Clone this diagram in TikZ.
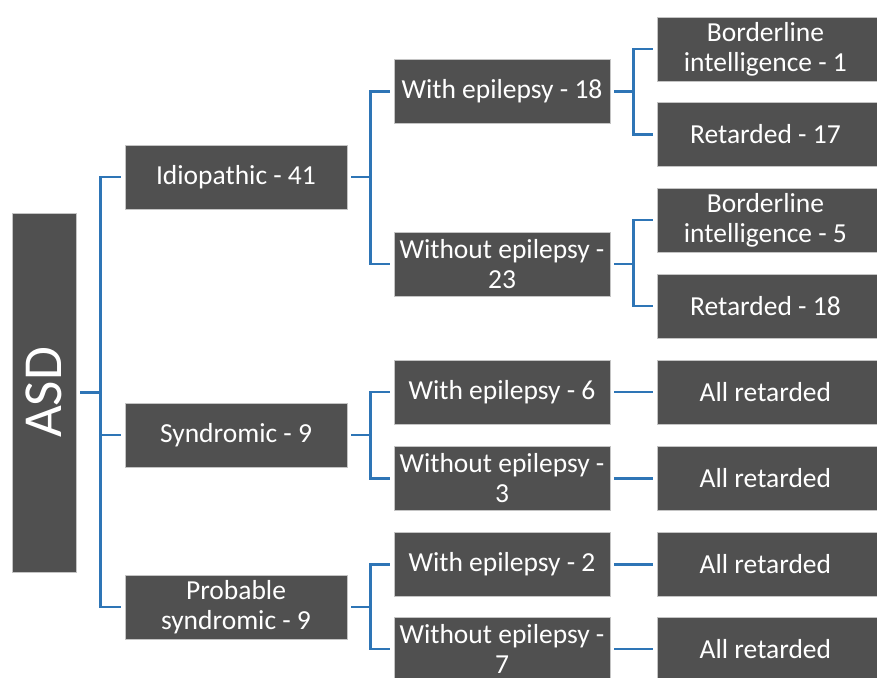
\documentclass[tikz,border=0pt]{standalone}
\usepackage{fontspec}
\setmainfont{Carlito}
\usepackage{graphicx}
\usepackage{tikz}
\usetikzlibrary{positioning}
\definecolor{mbox}{HTML}{505050}
\definecolor{medge}{HTML}{C4C4C4}
\definecolor{mblue}{HTML}{2E75B6}
\tikzset{box/.style = {fill = mbox, draw = medge, line width = 0.8, text = white,
                       inner sep = 0, minimum height = 64,
                       font = \fontsize{27.5}{30}\selectfont}}
\tikzset{lvlone/.style = {box, minimum width = 222, align = center}}
\tikzset{lvltwo/.style = {box, minimum width = 216, align = center}}
\tikzset{lvlthree/.style = {box, anchor = west, minimum width = 240,
                            execute at begin node = {\begin{minipage}{216pt}\centering},
                            execute at end node = {\end{minipage}\hspace*{24pt}}}}
\tikzset{conn/.style = {mblue, line width = 2.5, shorten < = 4, shorten > = 4}}

\begin{document}
\begin{tikzpicture}[x = 1pt, y = -1pt]
      \useasboundingbox (0, 0) rectangle (877, 677);
      \node [box, minimum width = 64, minimum height = 359,
             font = \fontsize{55}{60}\selectfont] (asd) at (44, 392.5) {\rotatebox{90}{ASD}};
      % first level
      \node [lvlone] (idio) at (236, 177) {Idiopathic - 41};
      \node [lvlone] (synd) at (236, 435) {Syndromic - 9};
      \node [lvlone] (prob) at (236, 607) {Probable\\ syndromic - 9};
      % second level
      \node [lvltwo] (we18) at (502, 91.5) {With epilepsy - 18};
      \node [lvltwo] (wo23) at (502, 264) {Without epilepsy -\\ 23};
      \node [lvltwo] (we6) at (502, 392) {With epilepsy - 6};
      \node [lvltwo] (wo3) at (502, 478.5) {Without epilepsy -\\ 3};
      \node [lvltwo] (we2) at (502, 564.5) {With epilepsy - 2};
      \node [lvltwo] (wo7) at (502, 649) {Without epilepsy -\\ 7};
      % third level
      \node [lvlthree] (bi1) at (657, 49) {Borderline\\ intelligence - 1};
      \node [lvlthree] (ret17) at (657, 134.5) {Retarded - 17};
      \node [lvlthree] (bi5) at (657, 220) {Borderline\\ intelligence - 5};
      \node [lvlthree] (ret18) at (657, 306) {Retarded - 18};
      \node [lvlthree] (all6) at (657, 392) {All retarded};
      \node [lvlthree] (all3) at (657, 478.5) {All retarded};
      \node [lvlthree] (all2) at (657, 564.5) {All retarded};
      \node [lvlthree] (all7) at (657, 649) {All retarded};
      % brackets
      \foreach \n in {idio, synd, prob} {
        \draw [conn] (asd.east) -- ++(24, 0) |- (\n.west);
      }
      \foreach \a/\b in {idio/we18, idio/wo23, synd/we6, synd/wo3, prob/we2, prob/wo7,
                         we18/bi1, we18/ret17, wo23/bi5, wo23/ret18} {
        \draw [conn] (\a.east) -- ++(23, 0) |- (\b.west);
      }
      \foreach \a/\b in {we6/all6, wo3/all3, we2/all2, wo7/all7} {
        \draw [conn] (\a.east) -- (\b.west);
      }
    \end{tikzpicture}
\end{document}
